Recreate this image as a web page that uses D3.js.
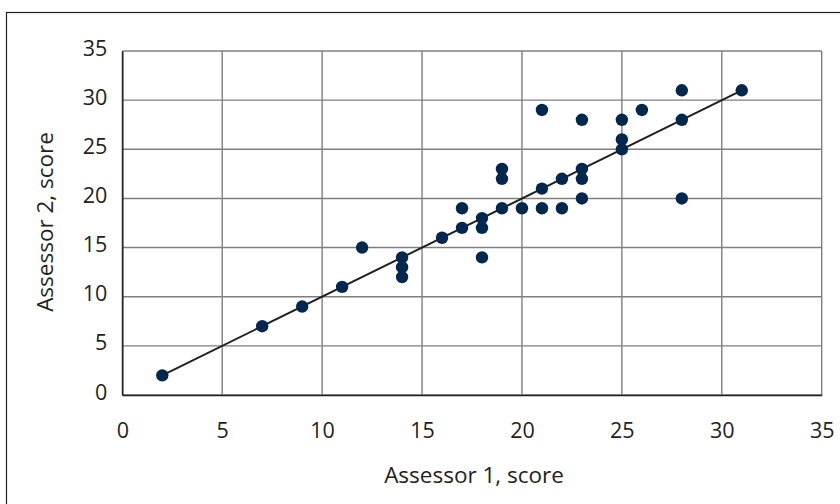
<!DOCTYPE html>
<html>
<head>
<meta charset="utf-8">
<script src="https://cdn.jsdelivr.net/npm/d3@7"></script>
<style>
  html, body { margin: 0; padding: 0; background: #fff; }
  svg { display: block; }
  text { font-family: "Open Sans", "Noto Sans", sans-serif; fill: #231f20; }
</style>
</head>
<body>
<svg id="chart" width="840" height="504"></svg>
<script>
// Data
const assessor1 = [2, 7, 9, 11, 12, 14, 14, 14, 16, 17, 17, 18, 18, 18, 19, 19, 19, 20, 21, 21, 21, 22, 22, 23, 23, 23, 23, 25, 25, 25, 26, 28, 28, 28, 31];
const assessor2 = [2, 7, 9, 11, 15, 14, 13, 12, 16, 17, 19, 18, 17, 14, 19, 22, 23, 19, 29, 21, 19, 22, 19, 28, 23, 22, 20, 28, 26, 25, 29, 31, 28, 20, 31];
const trendX = [2, 31];
const trendY = [2, 31];
const xTicks = [0, 5, 10, 15, 20, 25, 30, 35];
const yTicks = [0, 5, 10, 15, 20, 25, 30, 35];
const xTitle = "Assessor 1, score";
const yTitle = "Assessor 2, score";

const svg = d3.select("#chart");
const pLeft = 122.3, pRight = 821.7, pTop = 51, pBottom = 395;

// outer frame (extends beyond the right and bottom edges)
svg.append("rect")
  .attr("x", 6.5).attr("y", 12.5)
  .attr("width", 900).attr("height", 600)
  .attr("fill", "none").attr("stroke", "#231f20").attr("stroke-width", 1.2);

const x = d3.scaleLinear().domain([0, 35]).range([pLeft, pRight]);
const y = d3.scaleLinear().domain([0, 35]).range([pBottom, pTop]);

// grid
const grid = svg.append("g");
grid.selectAll("line.v").data(xTicks).join("line").attr("class", "v")
  .attr("x1", d => x(d)).attr("x2", d => x(d))
  .attr("y1", pTop).attr("y2", pBottom)
  .attr("stroke", "#7f7f7f").attr("stroke-width", 1.4);
grid.selectAll("line.h").data(yTicks).join("line").attr("class", "h")
  .attr("y1", d => y(d)).attr("y2", d => y(d))
  .attr("x1", pLeft).attr("x2", pRight)
  .attr("stroke", "#7f7f7f").attr("stroke-width", 1.4);

// axes
const xAxis = d3.axisBottom(x).tickValues(xTicks).tickSize(0).tickPadding(0);
const yAxis = d3.axisLeft(y).tickValues(yTicks).tickSize(0).tickPadding(0);

const gx = svg.append("g").attr("transform", `translate(0,${pBottom})`).call(xAxis);
gx.select(".domain").attr("stroke", "#231f20").attr("stroke-width", 1.5);
gx.selectAll("text").attr("font-size", 21.5).attr("font-family", '"Open Sans", sans-serif')
  .attr("fill", "#231f20").attr("dy", 0).attr("y", 42.5);

const gy = svg.append("g").attr("transform", `translate(${pLeft},0)`).call(yAxis);
gy.select(".domain").attr("stroke", "#231f20").attr("stroke-width", 1.5);
gy.selectAll("text").attr("font-size", 21.5).attr("font-family", '"Open Sans", sans-serif')
  .attr("fill", "#231f20").attr("x", -15).attr("dy", "0em").attr("y", 4);

// axis titles
svg.append("text")
  .attr("x", (pLeft + pRight) / 2 + 2).attr("y", 483)
  .attr("text-anchor", "middle").attr("font-size", 22.5)
  .text(xTitle);
svg.append("text")
  .attr("transform", `translate(53,${(pTop + pBottom) / 2 - 1}) rotate(-90)`)
  .attr("text-anchor", "middle").attr("font-size", 22.5)
  .text(yTitle);

// trend line
const line = d3.line().x(d => x(d[0])).y(d => y(d[1]));
svg.append("path")
  .datum(trendX.map((v, i) => [v, trendY[i]]))
  .attr("d", line)
  .attr("fill", "none").attr("stroke", "#231f20").attr("stroke-width", 2);

// points
svg.append("g").selectAll("circle")
  .data(assessor1.map((v, i) => [v, assessor2[i]]))
  .join("circle")
  .attr("cx", d => x(d[0])).attr("cy", d => y(d[1]))
  .attr("r", 6.2)
  .attr("fill", "#00284f");
</script>
</body>
</html>
